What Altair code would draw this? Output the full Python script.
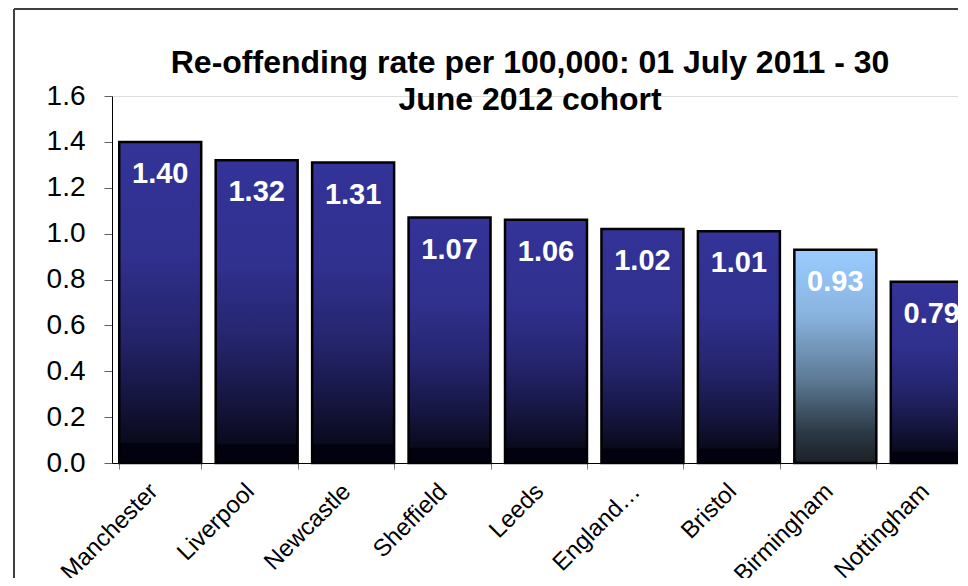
import altair as alt
import pandas as pd

# ---- data ----
areas = ["Manchester", "Liverpool", "Newcastle", "Sheffield", "Leeds",
         "England…", "Bristol", "Birmingham", "Nottingham"]
rates = [1.40, 1.32, 1.31, 1.07, 1.06, 1.02, 1.01, 0.93, 0.79]
highlight = ["Birmingham"]
title_lines = ["Re-offending rate per 100,000: 01 July 2011 - 30",
               "June 2012 cohort"]
y_ticks = [0.0, 0.2, 0.4, 0.6, 0.8, 1.0, 1.2, 1.4, 1.6]

df = pd.DataFrame({"area": areas, "rate": rates})
df["hl"] = df["area"].isin(highlight)

FONT = "Liberation Sans"

main_grad = alt.Gradient(
    gradient="linear", x1=0, x2=0, y1=0, y2=1,
    stops=[
        alt.GradientStop(offset=0.0, color="#333399"),
        alt.GradientStop(offset=0.35, color="#30308e"),
        alt.GradientStop(offset=0.6, color="#24246c"),
        alt.GradientStop(offset=0.8, color="#15153f"),
        alt.GradientStop(offset=0.935, color="#0a0a1c"),
        alt.GradientStop(offset=0.94, color="#010110"),
        alt.GradientStop(offset=1.0, color="#010110"),
    ],
)
hl_grad = alt.Gradient(
    gradient="linear", x1=0, x2=0, y1=0, y2=1,
    stops=[
        alt.GradientStop(offset=0.0, color="#99ccff"),
        alt.GradientStop(offset=0.3, color="#8ab4e0"),
        alt.GradientStop(offset=0.6, color="#5f7c98"),
        alt.GradientStop(offset=0.85, color="#2d3b48"),
        alt.GradientStop(offset=1.0, color="#1a2026"),
    ],
)

x_enc = alt.X(
    "area:N", sort=areas,
    scale=alt.Scale(domain=areas, range=[0, 868], paddingInner=0.15, paddingOuter=0.075),
    axis=alt.Axis(
        title=None, labelAngle=-45, labelFont=FONT, labelFontSize=24,
        labelColor="black", tickBand="extent", tickSize=6, tickColor="#808080",
        domainColor="black", domainWidth=1, labelPadding=10, labelLimit=400,
        labelOffset=-15,
    ),
)
y_enc = alt.Y(
    "rate:Q",
    scale=alt.Scale(domain=[0, 1.6], nice=False),
    axis=alt.Axis(
        title=None, values=y_ticks, format=".1f", labelFont=FONT,
        labelFontSize=28, labelColor="black", tickSize=8, tickColor="#606060",
        domainColor="black", domainWidth=1, labelPadding=19, grid=False,
    ),
)

base = alt.Chart(df)

bars_main = base.transform_filter("!datum.hl").mark_bar(
    fill=main_grad, stroke="black", strokeWidth=2.5
).encode(x=x_enc, y=y_enc)

bars_hl = base.transform_filter("datum.hl").mark_bar(
    fill=hl_grad, stroke="black", strokeWidth=2.5
).encode(x=x_enc, y=y_enc)

labels = base.mark_text(
    font=FONT, fontSize=29, fontWeight="bold", color="white",
    baseline="middle", align="center", dy=32,
).encode(x=x_enc, y=y_enc, text=alt.Text("rate:Q", format=".2f"))

title_mark = alt.Chart(alt.Data(values=[{"t": 1}])).mark_text(
    text=title_lines, font=FONT, fontSize=32, fontWeight="bold",
    color="black", align="center", baseline="alphabetic", lineHeight=37,
).encode(x=alt.value(418), y=alt.value(-23))

frame_v = alt.Chart(alt.Data(values=[{"t": 1}])).mark_rule(
    color="#404040", strokeWidth=2
).encode(x=alt.value(-98), y=alt.value(-87), y2=alt.value(600))
frame_h = alt.Chart(alt.Data(values=[{"t": 1}])).mark_rule(
    color="#404040", strokeWidth=2
).encode(x=alt.value(-98), x2=alt.value(1000), y=alt.value(-87))

chart = alt.layer(
    bars_main, bars_hl, labels, title_mark, frame_v, frame_h
).properties(
    width=846, height=367,
    autosize=alt.AutoSizeParams(type="none"),
    padding={"left": 104, "top": 88, "right": 0, "bottom": 115},
).configure_view(stroke=None).configure(background="white")

chart.save("out.html", embed_options={"renderer": "svg", "actions": False})
